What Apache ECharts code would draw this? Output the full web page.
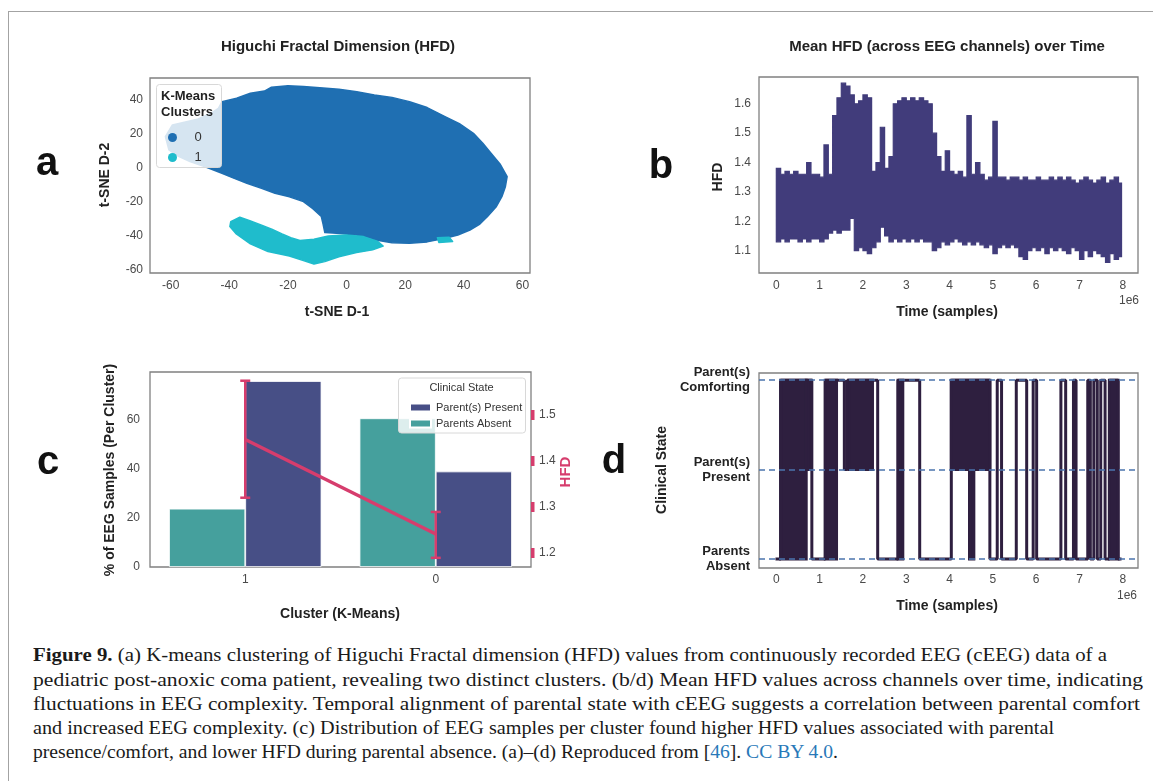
<!DOCTYPE html>
<html>
<head>
<meta charset="utf-8">
<title>Figure 9 - HFD</title>
<script src="https://cdn.jsdelivr.net/npm/echarts@6/dist/echarts.min.js"></script>
<style>
  html, body { margin: 0; padding: 0; background: #fff; }
  body { width: 1153px; height: 781px; position: relative; overflow: hidden; }
  #frame { position: absolute; left: 8px; top: 11px; width: 1200px; height: 800px;
           border-top: 1.5px solid #a3a3a3; border-left: 1.5px solid #a3a3a3; pointer-events: none; }
  #chart { position: absolute; left: 0; top: 0; width: 1153px; height: 630px; }
  #caption { position: absolute; left: 33px; top: 0; font-family: "Liberation Serif", "DejaVu Serif", serif;
             font-size: 19px; color: #1a1a1a; }
  #caption .ln { position: absolute; left: 0; white-space: nowrap; line-height: 24px; transform-origin: 0 50%; }
  #caption .lk { color: #2878b8; }
</style>
</head>
<body>
<div id="chart"></div>
<div id="caption">
  <div class="ln" style="top:643px"><b>Figure 9.</b> (a) K-means clustering of Higuchi Fractal dimension (HFD) values from continuously recorded EEG (cEEG) data of a</div>
  <div class="ln" style="top:668px">pediatric post-anoxic coma patient, revealing two distinct clusters. (b/d) Mean HFD values across channels over time, indicating</div>
  <div class="ln" style="top:692px">fluctuations in EEG complexity. Temporal alignment of parental state with cEEG suggests a correlation between parental comfort</div>
  <div class="ln" style="top:716px">and increased EEG complexity. (c) Distribution of EEG samples per cluster found higher HFD values associated with parental</div>
  <div class="ln" style="top:740px">presence/comfort, and lower HFD during parental absence. (a)–(d) Reproduced from [<span class="lk">46</span>]. <span class="lk">CC BY 4.0</span>.</div>
</div>
<div id="frame"></div>
<script>
// ---- (a) t-SNE of HFD, cluster outlines
const tsneXTicks = [-60, -40, -20, 0, 20, 40, 60];
const tsneYTicks = [-60, -40, -20, 0, 20, 40];
const cluster0Outline = [
  [-61.8, 18.4], [-59.4, 25.3], [-50.9, 28.6], [-45.5, 33.0], [-43.7, 35.1], [-42.5, 39.0],
  [-37.5, 41.0], [-32.8, 43.9], [-28.0, 45.2], [-25.6, 47.5], [-20.0, 48.3], [-14.7, 47.9],
  [-8.0, 47.0], [-2.6, 46.3], [3.5, 44.8], [9.5, 42.9], [15.5, 41.5], [21.5, 39.0],
  [27.5, 35.5], [33.6, 30.2], [38.5, 26.0], [43.3, 20.4], [46.5, 14.5], [49.3, 8.6],
  [52.5, 2.0], [54.8, -5.1], [54.2, -11.0], [53.0, -16.9], [51.0, -23.0], [48.1, -28.6],
  [45.5, -33.0], [42.1, -36.5], [38.0, -39.5], [33.6, -41.4], [27.5, -43.5], [21.5, -44.3],
  [15.5, -44.0], [9.5, -42.3], [3.4, -39.4], [-2.0, -38.5], [-7.4, -38.0], [-8.0, -33.0],
  [-8.6, -28.6], [-11.5, -24.0], [-14.7, -19.8], [-19.5, -17.0], [-24.4, -14.9], [-29.0, -12.0],
  [-34.0, -9.0], [-38.5, -6.0], [-42.5, -3.1], [-48.0, 0.5], [-53.4, 3.7], [-57.5, 7.0],
  [-60.6, 10.6]
];
const cluster1Outline = [
  [-39.5, -31.6], [-36.4, -29.0], [-33.0, -31.0], [-29.2, -33.5], [-25.5, -36.0], [-22.0, -38.8],
  [-19.0, -41.0], [-15.9, -42.7], [-11.1, -41.9], [-6.2, -40.0], [-0.2, -39.4], [5.8, -40.4],
  [10.7, -43.3], [12.5, -45.9], [8.9, -48.2], [3.4, -49.8], [-2.6, -52.2], [-7.4, -55.1],
  [-11.1, -56.5], [-14.7, -54.5], [-19.5, -51.8], [-26.8, -49.2], [-32.8, -44.7], [-37.6, -38.8],
  [-39.8, -34.5]
];
const cluster1Patch = [[31.0, -41.0], [35.0, -40.8], [36.2, -43.2], [31.5, -43.8]];

// ---- (b) mean HFD over time: band envelope per 0.1e6 samples
const timeTicks = [0, 1, 2, 3, 4, 5, 6, 7, 8];
const hfdTicks = [1.1, 1.2, 1.3, 1.4, 1.5, 1.6];
const hfdStep = 0.1;
const hfdHigh = [
  1.38, 1.36, 1.37, 1.36, 1.37, 1.36, 1.36, 1.40, 1.36, 1.36,
  1.35, 1.46, 1.36, 1.56, 1.62, 1.67, 1.66, 1.63, 1.60, 1.61,
  1.63, 1.62, 1.37, 1.40, 1.52, 1.38, 1.42, 1.60, 1.61, 1.62,
  1.61, 1.62, 1.61, 1.62, 1.61, 1.60, 1.50, 1.42, 1.37, 1.44,
  1.37, 1.36, 1.37, 1.35, 1.56, 1.36, 1.40, 1.36, 1.34, 1.35,
  1.54, 1.35, 1.35, 1.34, 1.35, 1.35, 1.34, 1.35, 1.34, 1.34,
  1.35, 1.34, 1.34, 1.35, 1.34, 1.35, 1.34, 1.35, 1.34, 1.33,
  1.34, 1.35, 1.34, 1.33, 1.34, 1.35, 1.33, 1.34, 1.35, 1.33
];
const hfdLow = [
  1.13, 1.14, 1.13, 1.14, 1.14, 1.13, 1.14, 1.13, 1.14, 1.14,
  1.13, 1.14, 1.16, 1.17, 1.16, 1.17, 1.17, 1.21, 1.10, 1.11,
  1.10, 1.09, 1.11, 1.13, 1.18, 1.15, 1.13, 1.14, 1.13, 1.14,
  1.13, 1.14, 1.13, 1.14, 1.13, 1.13, 1.10, 1.11, 1.13, 1.12,
  1.13, 1.14, 1.13, 1.12, 1.13, 1.12, 1.13, 1.12, 1.11, 1.12,
  1.09, 1.11, 1.12, 1.11, 1.12, 1.11, 1.08, 1.07, 1.10, 1.11,
  1.10, 1.11, 1.09, 1.11, 1.10, 1.11, 1.10, 1.09, 1.11, 1.10,
  1.07, 1.10, 1.08, 1.10, 1.09, 1.08, 1.06, 1.09, 1.07, 1.08
];

// ---- (c) samples per cluster + mean HFD
const clusterCats = ['1', '0'];
const pctTicks = [0, 20, 40, 60];
const hfdRightTicks = [1.2, 1.3, 1.4, 1.5];
const pctPresent = [75.9, 39.0];
const pctAbsent = [23.8, 60.7];
const hfdMean = [1.446, 1.240];
const hfdErrLow = [1.319, 1.188];
const hfdErrHigh = [1.574, 1.288];

// ---- (d) clinical state over time (0 absent, 1 present, 2 comforting)
const stateLevels = [0, 1, 2];
const stateNames = ['Parents\nAbsent', 'Parent(s)\nPresent', 'Parent(s)\nComforting'];
const stateSteps = [
  [-0.02, 0], [0.10, 2], [0.82, 0], [1.13, 2], [1.57, 1], [1.64, 2], [2.34, 0], [2.81, 2],
  [3.31, 0], [4.04, 2], [4.93, 0], [5.10, 2], [5.20, 0], [5.54, 2], [5.78, 0], [5.93, 2],
  [6.01, 0], [6.57, 2], [6.68, 0], [6.86, 2], [6.92, 0], [7.19, 2], [7.25, 0], [7.33, 2],
  [7.41, 0], [7.49, 2], [7.59, 0], [7.69, 2], [7.89, 0], [7.97, 0]
];
// dense switching shows as solid blocks: [t0, t1, fromState, toState]
const stateBlocks = [
  [0.10, 0.69, 0, 2], [0.69, 0.81, 1, 2], [1.13, 1.39, 0, 2], [1.68, 2.22, 1, 2],
  [2.81, 2.92, 0, 2], [4.04, 4.93, 1, 2], [4.46, 4.56, 0, 1], [7.69, 7.89, 0, 2]
];

const c0Color = '#1f6fb2';
const c1Color = '#1fbccc';
const bandColor = '#413c7b';
const presentColor = '#474f86';
const absentColor = '#45a09d';
const pink = '#d63d6d';
const stateColor = '#2e1f3f';
const tickColor = '#4a4a4a';
const FONT = '"Liberation Sans", Arial, sans-serif';

const chart = echarts.init(document.getElementById('chart'), null, { renderer: 'canvas' });

function polygonRender(points, color) {
  return function (params, api) {
    return {
      type: 'polygon',
      shape: { points: points.map((p) => api.coord(p)) },
      style: { fill: color, stroke: color, lineWidth: 1.5, lineJoin: 'round' }
    };
  };
}

function txt(text, x, y, opts) {
  const o = opts || {};
  return {
    type: 'text', x: x, y: y, rotation: o.rot || 0, z: o.z || 6,
    style: {
      text: text, fill: o.color || '#222', fontSize: o.size || 14,
      fontWeight: o.weight || 'bold', fontFamily: FONT,
      align: o.align || 'center', verticalAlign: 'middle',
      textAlign: o.align || 'center', textVerticalAlign: 'middle'
    }
  };
}

const gridBox = { show: true, borderColor: '#808080', borderWidth: 1.3, backgroundColor: 'transparent' };

const option = {
  animation: false,
  textStyle: { fontFamily: FONT },
  grid: [
    Object.assign({ left: 150, top: 78, width: 380, height: 195 }, gridBox),
    Object.assign({ left: 759, top: 77, width: 379, height: 196 }, gridBox),
    Object.assign({ left: 150, top: 372, width: 381, height: 195 }, gridBox),
    Object.assign({ left: 759, top: 373, width: 379, height: 195 }, gridBox)
  ],
  xAxis: [
    {
      type: 'value', gridIndex: 0, min: -67.05, max: 62.6,
      axisLine: { show: false }, axisTick: { show: false }, splitLine: { show: false },
      axisLabel: { customValues: tsneXTicks, color: tickColor, fontSize: 12, margin: 7 }
    },
    {
      type: 'value', gridIndex: 1, min: -0.4, max: 8.35,
      axisLine: { show: false }, axisTick: { show: false }, splitLine: { show: false },
      axisLabel: { customValues: timeTicks, color: tickColor, fontSize: 12, margin: 7 }
    },
    {
      type: 'category', gridIndex: 2, data: clusterCats,
      axisLine: { show: false }, axisTick: { show: false }, splitLine: { show: false },
      axisLabel: { color: tickColor, fontSize: 12, margin: 7 }
    },
    {
      type: 'value', gridIndex: 3, min: -0.4, max: 8.35,
      axisLine: { show: false }, axisTick: { show: false }, splitLine: { show: false },
      axisLabel: { customValues: timeTicks, color: tickColor, fontSize: 12, margin: 6 }
    }
  ],
  yAxis: [
    {
      type: 'value', gridIndex: 0, min: -61.8, max: 52.9,
      axisLine: { show: false }, axisTick: { show: false }, splitLine: { show: false },
      axisLabel: { customValues: tsneYTicks, color: tickColor, fontSize: 12, margin: 7 }
    },
    {
      type: 'value', gridIndex: 1, min: 1.024, max: 1.691,
      axisLine: { show: false }, axisTick: { show: false }, splitLine: { show: false },
      axisLabel: { customValues: hfdTicks, color: tickColor, fontSize: 12, margin: 8,
                   formatter: (v) => v.toFixed(1) }
    },
    {
      type: 'value', gridIndex: 2, min: 0, max: 79.6, position: 'left',
      axisLine: { show: false }, axisTick: { show: false }, splitLine: { show: false },
      axisLabel: { customValues: pctTicks, color: tickColor, fontSize: 12, margin: 10 }
    },
    {
      type: 'value', gridIndex: 2, min: 1.168, max: 1.593, position: 'right',
      axisLine: { show: false }, splitLine: { show: false },
      axisTick: { show: true, customValues: hfdRightTicks, length: 3.5,
                  lineStyle: { color: pink, width: 10 } },
      axisLabel: { customValues: hfdRightTicks, color: tickColor, fontSize: 12, margin: 8,
                   formatter: (v) => v.toFixed(1) }
    },
    {
      type: 'value', gridIndex: 3, min: -0.1, max: 2.08,
      axisLine: { show: false }, axisTick: { show: false }, splitLine: { show: false },
      axisLabel: { customValues: stateLevels, color: '#222', fontSize: 13, fontWeight: 'bold',
                   lineHeight: 15, margin: 9, formatter: (v) => stateNames[Math.round(v)] }
    }
  ],
  legend: [
    {
      data: ['0', '1'], left: 163, top: 126, orient: 'vertical', icon: 'circle',
      itemWidth: 34, itemHeight: 9, itemGap: 7, selectedMode: false, z: 8,
      textStyle: { fontSize: 13, color: '#333' }
    },
    {
      data: ['Parent(s) Present', 'Parents Absent'], left: 404, top: 397, orient: 'vertical',
      icon: 'rect', itemWidth: 21, itemHeight: 8, itemGap: 5, selectedMode: false, z: 8,
      textStyle: { fontSize: 11, color: '#333' }
    }
  ],
  graphic: [
    // panel letters
    txt('a', 47, 164, { size: 40, color: '#111' }),
    txt('b', 661, 167, { size: 40, color: '#111' }),
    txt('c', 48, 463, { size: 40, color: '#111' }),
    txt('d', 614, 462, { size: 40, color: '#111' }),
    // titles
    txt('Higuchi Fractal Dimension (HFD)', 338, 47, { size: 15 }),
    txt('Mean HFD (across EEG channels) over Time', 947, 47, { size: 15 }),
    // axis names
    txt('t-SNE D-1', 337, 312, { size: 14 }),
    txt('t-SNE D-2', 105, 175, { size: 14, rot: Math.PI / 2 }),
    txt('Time (samples)', 947, 312, { size: 14 }),
    txt('HFD', 718, 177, { size: 14, rot: Math.PI / 2 }),
    txt('1e6', 1129, 301, { size: 12, weight: 'normal', color: tickColor }),
    txt('% of EEG Samples (Per Cluster)', 110, 470, { size: 14, rot: Math.PI / 2 }),
    txt('Cluster (K-Means)', 340, 614, { size: 14 }),
    txt('HFD', 566, 472, { size: 15, rot: Math.PI / 2, color: pink }),
    txt('Clinical State', 662, 470, { size: 14, rot: Math.PI / 2 }),
    txt('Time (samples)', 947, 606, { size: 14 }),
    txt('1e6', 1127, 596, { size: 12, weight: 'normal', color: tickColor }),
    // legend frames and titles
    {
      type: 'rect', z: 7, shape: { x: 156.5, y: 84.5, width: 65, height: 83, r: 3 },
      style: { fill: 'rgba(255,255,255,0.82)', stroke: '#d8d8d8', lineWidth: 1 }
    },
    txt('K-Means', 161, 96, { size: 13, align: 'left', z: 8 }),
    txt('Clusters', 161, 112, { size: 13, align: 'left', z: 8 }),
    {
      type: 'rect', z: 7, shape: { x: 398.5, y: 378, width: 127, height: 55, r: 3 },
      style: { fill: 'rgba(255,255,255,0.82)', stroke: '#d8d8d8', lineWidth: 1 }
    },
    txt('Clinical State', 461.5, 388, { size: 11, weight: 'normal', color: '#333', z: 8 })
  ],
  series: [
    {
      name: '0', type: 'custom', xAxisIndex: 0, yAxisIndex: 0, data: [[0, 0]],
      itemStyle: { color: c0Color }, renderItem: polygonRender(cluster0Outline, c0Color)
    },
    {
      name: '1', type: 'custom', xAxisIndex: 0, yAxisIndex: 0, data: [[0, 0]],
      itemStyle: { color: c1Color },
      renderItem: function (params, api) {
        return {
          type: 'group',
          children: [polygonRender(cluster1Outline, c1Color)(params, api),
                     polygonRender(cluster1Patch, c1Color)(params, api)]
        };
      }
    },
    {
      // one stepped polygon: upper envelope forward, lower envelope back
      name: 'Mean HFD', type: 'custom', xAxisIndex: 1, yAxisIndex: 1, data: [[0, 1.3]],
      renderItem: function (params, api) {
        const last = hfdHigh.length - 1;
        const upper = [], lower = [];
        hfdHigh.forEach((h, i) => {
          const t0 = i * hfdStep;
          const t1 = t0 + (i === last ? 0.07 : hfdStep);
          upper.push(api.coord([t0, h]), api.coord([t1, h]));
          lower.push(api.coord([t0, hfdLow[i]]), api.coord([t1, hfdLow[i]]));
        });
        return {
          type: 'polygon',
          shape: { points: upper.concat(lower.reverse()) },
          style: { fill: bandColor, stroke: bandColor, lineWidth: 1.2, lineJoin: 'miter' }
        };
      }
    },
    {
      name: 'Parents Absent', type: 'bar', xAxisIndex: 2, yAxisIndex: 2, data: pctAbsent,
      barGap: '0%', barCategoryGap: '20%',
      itemStyle: { color: absentColor, borderColor: '#ffffff', borderWidth: 0.8 }
    },
    {
      name: 'Parent(s) Present', type: 'bar', xAxisIndex: 2, yAxisIndex: 2, data: pctPresent,
      barGap: '0%', barCategoryGap: '20%',
      itemStyle: { color: presentColor, borderColor: '#ffffff', borderWidth: 0.8 }
    },
    {
      name: 'HFD mean', type: 'line', xAxisIndex: 2, yAxisIndex: 3, data: hfdMean, z: 5,
      symbol: 'none', lineStyle: { color: pink, width: 3.5 }
    },
    {
      name: 'HFD error', type: 'custom', xAxisIndex: 2, yAxisIndex: 3, z: 5,
      data: hfdMean.map((m, i) => [i, hfdErrLow[i], hfdErrHigh[i]]),
      renderItem: function (params, api) {
        const lo = api.coord([api.value(0), api.value(1)]);
        const hi = api.coord([api.value(0), api.value(2)]);
        const cap = 5;
        const st = { stroke: pink, lineWidth: 2.5 };
        return {
          type: 'group',
          children: [
            { type: 'line', shape: { x1: lo[0], y1: lo[1], x2: hi[0], y2: hi[1] }, style: st },
            { type: 'line', shape: { x1: hi[0] - cap, y1: hi[1], x2: hi[0] + cap, y2: hi[1] }, style: st },
            { type: 'line', shape: { x1: lo[0] - cap, y1: lo[1], x2: lo[0] + cap, y2: lo[1] }, style: st }
          ]
        };
      }
    },
    {
      name: 'State blocks', type: 'custom', xAxisIndex: 3, yAxisIndex: 4, data: stateBlocks,
      renderItem: function (params, api) {
        const p0 = api.coord([api.value(0), api.value(3)]);
        const p1 = api.coord([api.value(1), api.value(2)]);
        return {
          type: 'rect',
          shape: { x: p0[0], y: p0[1], width: p1[0] - p0[0], height: p1[1] - p0[1] },
          style: { fill: stateColor, stroke: stateColor, lineWidth: 3 }
        };
      }
    },
    {
      name: 'Clinical state', type: 'line', xAxisIndex: 3, yAxisIndex: 4, data: stateSteps,
      step: 'end', symbol: 'none', lineStyle: { color: stateColor, width: 3 },
      markLine: {
        silent: true, symbol: ['none', 'none'], label: { show: false },
        lineStyle: { color: '#4b74ad', width: 1.6, type: [6, 4] },
        data: stateLevels.map((s) => ({ yAxis: s }))
      }
    }
  ]
};

chart.setOption(option);

// fit caption lines to the measured line lengths of the reference
const capTargets = [1074, 1110, 1107, 1021, 805];
function fitCaption() {
  document.querySelectorAll('#caption .ln').forEach((el, i) => {
    el.style.transform = 'none';
    const w = el.getBoundingClientRect().width;
    if (w > 0) el.style.transform = 'scaleX(' + (capTargets[i] / w) + ')';
  });
}
fitCaption();
if (document.fonts && document.fonts.ready) document.fonts.ready.then(fitCaption);
</script>
</body>
</html>
